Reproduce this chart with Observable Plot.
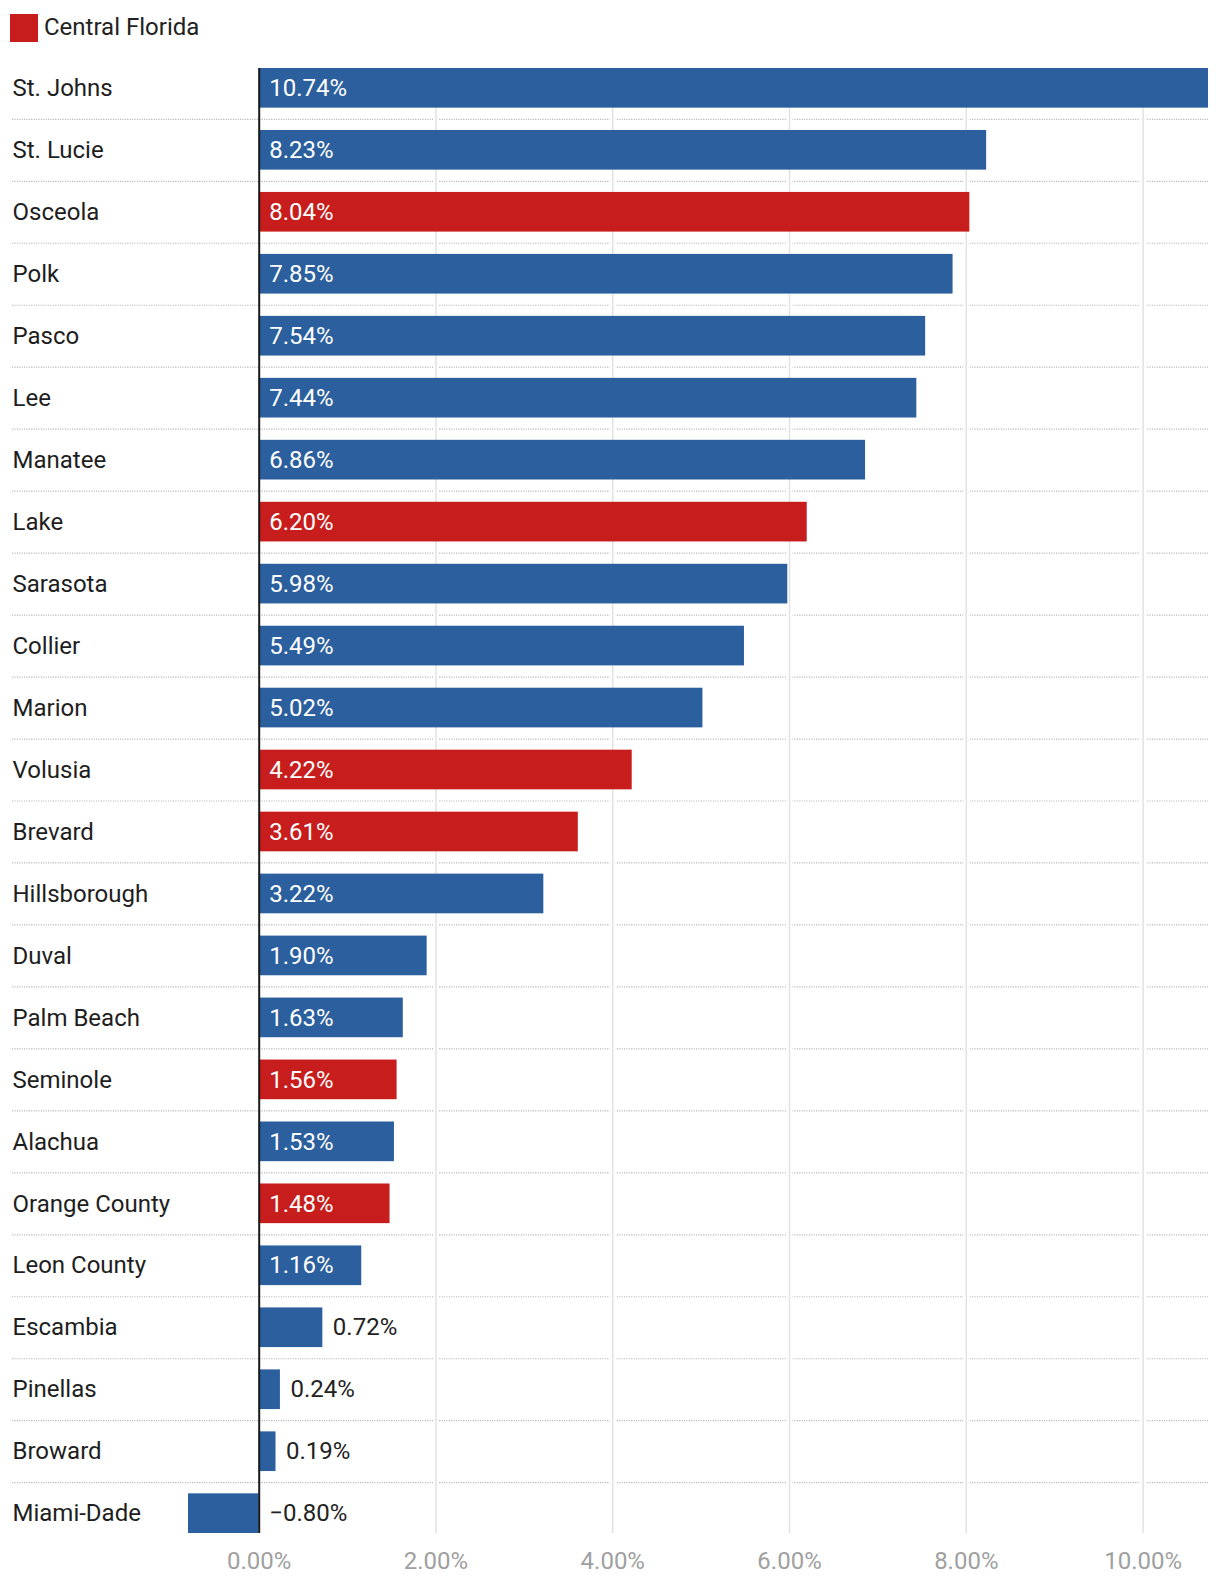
<!DOCTYPE html>
<html><head><meta charset="utf-8">
<script src="https://cdn.jsdelivr.net/npm/d3@7"></script>
<script src="https://cdn.jsdelivr.net/npm/@observablehq/plot@0.6"></script>
<style>
body{margin:0;background:#fff;font-family:Roboto,sans-serif;}
#legend{height:56px;position:relative;}
.sw{position:absolute;left:10px;top:14px;width:28px;height:28px;background:#c71e1d}
.lt{position:absolute;left:44px;top:13px;line-height:28px;font-size:24px;color:#222}
#chart svg{display:block}
</style></head><body>
<div id="legend"><span class="sw"></span><span class="lt">Central Florida</span></div>
<div id="chart"></div>
<script>
const counties = ["St. Johns","St. Lucie","Osceola","Polk","Pasco","Lee","Manatee","Lake","Sarasota","Collier","Marion","Volusia","Brevard","Hillsborough","Duval","Palm Beach","Seminole","Alachua","Orange County","Leon County","Escambia","Pinellas","Broward","Miami-Dade"];
const values = [10.74,8.23,8.04,7.85,7.54,7.44,6.86,6.20,5.98,5.49,5.02,4.22,3.61,3.22,1.90,1.63,1.56,1.53,1.48,1.16,0.72,0.24,0.19,-0.80];
const centralFlorida = ["Osceola","Lake","Volusia","Brevard","Seminole","Orange County"];
const xTicks = [0,2,4,6,8,10];
const gridTicks = [2,4,6,8,10];
const groups = ["Central Florida","Other"];
const groupColors = ["#c71e1d","#2b5f9e"];

const data = counties.map((c,i)=>({county:c, value:values[i], group: centralFlorida.includes(c) ? "Central Florida" : "Other"}));
const fmt = d => d3.format(".2f")(d) + "%";

const W = 1220, H = 1526, mT = 12, mB = 49, mL = 188, mR = 12, pad = 0.36;
const step = (H - mT - mB) / (counties.length - pad);
const labelShift = -(mL - 12);

const chart = Plot.plot({
  width: W, height: H,
  marginTop: mT, marginBottom: mB, marginLeft: mL, marginRight: mR,
  style: {fontFamily: "Roboto, sans-serif", fontSize: "24px", background: "#fff", overflow: "visible"},
  x: {domain: [d3.min(values), d3.max(values)], axis: null, label: null},
  y: {domain: counties, paddingInner: pad, paddingOuter: 0, round: false, axis: null},
  color: {domain: groups, range: groupColors},
  marks: [
    Plot.ruleY(counties.slice(0, -1), {y: d => d, dy: step / 2, insetLeft: labelShift, stroke: "#b5b5b5", strokeWidth: 1.2, strokeDasharray: "1.1,1.3"}),
    Plot.ruleX(gridTicks, {stroke: "#fff", strokeWidth: 6}),
    Plot.ruleX(gridTicks, {stroke: "#e2e2e2", strokeWidth: 1.5}),
    Plot.barX(data, {x: "value", y: "county", fill: "group"}),
    Plot.ruleX([0], {stroke: "#1a1a1a", strokeWidth: 2}),
    Plot.text(data.filter(d => d.value > 1), {x: () => 0, y: "county", text: d => fmt(d.value), textAnchor: "start", dx: 10, fill: "#fff"}),
    Plot.text(data.filter(d => d.value <= 1), {x: d => Math.max(d.value, 0), y: "county", text: d => fmt(d.value), textAnchor: "start", dx: 10, fill: "#222"}),
    Plot.text(data, {y: "county", text: "county", frameAnchor: "left", textAnchor: "start", dx: labelShift, fill: "#1e1e1e"}),
    Plot.axisX({ticks: xTicks, tickSize: 0, tickPadding: 18, tickFormat: fmt, fill: "#a0a0a0", fontSize: 24, label: null})
  ]
});
document.getElementById("chart").appendChild(chart);
</script>
</body></html>
